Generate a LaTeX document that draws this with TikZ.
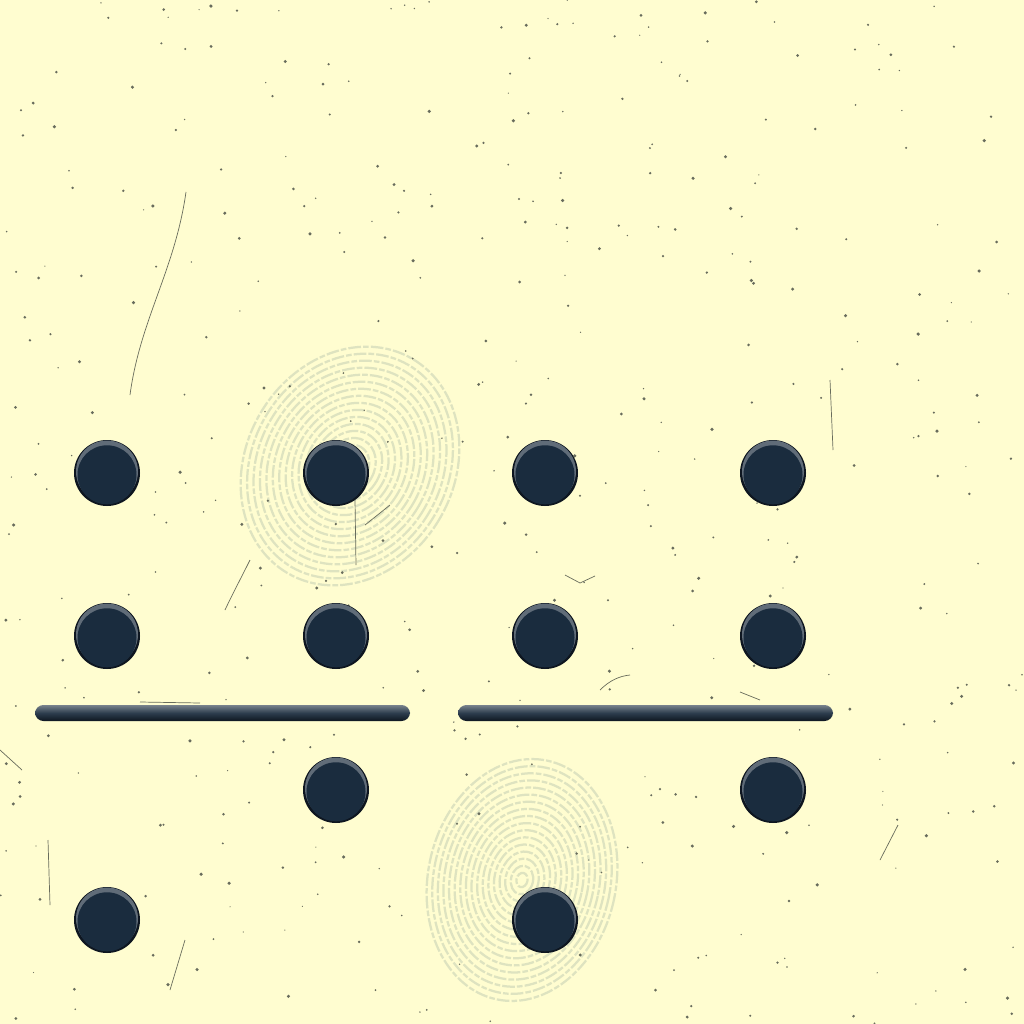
\documentclass[tikz,border=0pt]{standalone}
\usepackage{tikz}
\usetikzlibrary{calc}
\definecolor{paper}{RGB}{255,253,208}
\definecolor{beadrim}{RGB}{14,22,32}
\definecolor{beadlight}{RGB}{96,108,120}
\definecolor{beadface}{RGB}{26,44,62}
\definecolor{barlight}{RGB}{120,130,140}
\definecolor{printline}{RGB}{222,227,192}
\definecolor{speck}{RGB}{104,108,92}
\def\bead(#1,#2){\fill[beadrim] (#1,#2) circle (33);
	\fill[beadlight] (#1,#2-1.5) circle (31);
	\fill[beadface] (#1,#2+1.8) circle (29.5);}
\def\fingerprint(#1,#2)(#3:#4:#5){\foreach \r in {1,...,17}{\draw[line width=1.6pt, color=printline, dash pattern=on 9pt off 1.5pt on 4pt off 1.5pt, rotate around={#3:(#1,#2)}] (#1,#2) ellipse ({#4*\r/17} and {#5*\r/17});}}

\begin{document}
\begin{tikzpicture}[x=0.025cm, y=-0.025cm]
		%%%%% START %%%%%
		
		\fill[paper] (0, 0) rectangle (1024, 1024);
		\useasboundingbox (0, 0) rectangle (1024, 1024);
		
		\fingerprint(350, 466)(-30:104:124)
		\fingerprint(522, 880)(-12:94:122)
		
		\pgfmathsetseed{11}
		\foreach \i in {1,...,450}{
			\pgfmathsetmacro{\sx}{1024*rnd}
			\pgfmathsetmacro{\sy}{1024*rnd}
			\pgfmathsetmacro{\sr}{0.6+1.2*rnd}
			\fill[speck] (\sx, \sy) circle (\sr);
		}
		
		\draw[line width=0.5pt, color=speck] (186, 192) .. controls (175, 270) and (140, 320) .. (130, 395);
		\draw[line width=0.5pt, color=speck] (250, 560) .. controls (240, 580) and (232, 595) .. (225, 610);
		\draw[line width=0.5pt, color=speck] (355, 500) -- (356, 565);
		\draw[line width=0.5pt, color=speck] (365, 525) -- (390, 505);
		\draw[line width=0.5pt, color=speck] (0, 750) -- (22, 770);
		\draw[line width=0.5pt, color=speck] (48, 840) -- (50, 905);
		\draw[line width=0.5pt, color=speck] (880, 860) -- (898, 825);
		\draw[line width=0.5pt, color=speck] (140, 702) -- (200, 703);
		\draw[line width=0.5pt, color=speck] (600, 690) .. controls (610, 680) and (620, 676) .. (630, 675);
		\draw[line width=0.5pt, color=speck] (740, 692) -- (760, 700);
		\draw[line width=0.5pt, color=speck] (565, 575) -- (580, 583) -- (595, 576);
		\draw[line width=0.5pt, color=speck] (830, 380) -- (833, 450);
		\draw[line width=0.5pt, color=speck] (185, 940) -- (170, 990);
		
		\bead(107, 473) \bead(336, 473) \bead(545, 473) \bead(773, 473)
		\bead(107, 636) \bead(336, 636) \bead(545, 636) \bead(773, 636)
		
		\shade[top color=barlight, bottom color=beadrim, middle color=beadface!80!barlight, rounded corners=6] (35, 705) rectangle (410, 721);
		\shade[top color=barlight, bottom color=beadrim, middle color=beadface!80!barlight, rounded corners=6] (458, 705) rectangle (833, 721);
		
		\bead(336, 790) \bead(773, 790)
		\bead(107, 920) \bead(545, 920)
		
		%%%%% END %%%%%
	\end{tikzpicture}
\end{document}
